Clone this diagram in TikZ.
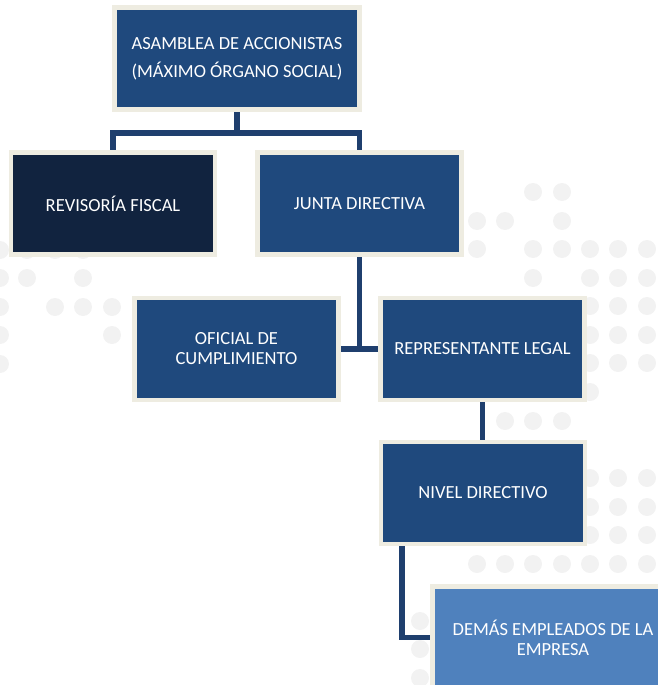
\documentclass[tikz,border=0pt]{standalone}
\usepackage{fontspec}
\setmainfont{Carlito}
\usetikzlibrary{backgrounds}
\definecolor{boxblue}{HTML}{1F497D}
\definecolor{darknavy}{HTML}{11233F}
\definecolor{lightblue}{HTML}{4F81BD}
\definecolor{cream}{HTML}{EEECE1}
\definecolor{connblue}{HTML}{1F3F6E}
\definecolor{dotgray}{HTML}{F2F2F2}
\begin{document}
\begin{tikzpicture}[x=1pt,y=-1pt,
  orgbox/.style={draw=cream, line width=4.5pt, fill=boxblue, text=white,
    minimum width=204pt, minimum height=102pt, inner sep=0pt, align=center,
    font=\fontsize{18.5}{20}\selectfont},
  conn/.style={draw=connblue, line width=5.5pt},
  bgdot/.style={fill=dotgray}]
\useasboundingbox (0,0) rectangle (658,685);
\clip (0,0) rectangle (658,685);
% decorative dots
\foreach \p in {(533,192),(562,192),
  (477,221),(505,221),(562,221),
  (477,249),(533,249),(562,249),(590,249),(618,249),(647,249),
  (533,278),(590,278),(618,278),(647,278),
  (590,306),(618,306),(647,306),
  (590,335),(618,335),(647,335),
  (590,363),(618,363),(647,363),
  (590,392),
  (505,421),(533,421),(562,421),
  (590,478),(618,478),(647,478),
  (590,507),(618,507),(647,507),
  (590,535),(618,535),(647,535),
  (477,564),(505,564),(533,564),(562,564),(590,564),(618,564),(647,564),
  (420,621),(420,649),(420,678),
  (0,250),(27,250),(55,250),(83,250),
  (0,278),(27,278),(83,278),
  (0,307),(55,307),(83,307),(112,307),
  (0,335),(112,335),
  (0,364)}
  \fill[bgdot] \p circle (9pt);
% boxes
\node[orgbox, minimum width=245pt] (asam) at (237,58.5) {ASAMBLEA DE ACCIONISTAS\\[8pt](MÁXIMO ÓRGANO SOCIAL)};
\node[orgbox, fill=darknavy] (rev) at (113,203.5) {REVISORÍA FISCAL};
\node[orgbox] (junta) at (359.5,203.5) {JUNTA DIRECTIVA};
\node[orgbox] (ofi) at (236.5,349) {OFICIAL DE\\CUMPLIMIENTO};
\node[orgbox] (rep) at (482.5,349) {REPRESENTANTE LEGAL};
\node[orgbox] (niv) at (483,493) {NIVEL DIRECTIVO};
\node[orgbox, fill=lightblue, minimum width=241pt] (dem) at (553,637.5) {DEMÁS EMPLEADOS DE LA\\EMPRESA};
% connectors
\begin{scope}[on background layer]
\coordinate (j1) at (237,133);
\draw[conn] (asam.south) -- (j1);
\draw[conn] (rev.north) |- (j1) -| (junta.north);
\coordinate (j2) at (359.5,349);
\draw[conn] (junta.south) -- (j2);
\draw[conn] (ofi.east) -- (rep.west);
\draw[conn] (rep.south) -- (rep.south |- niv.north);
\draw[conn] ([xshift=-81pt]niv.south) |- (dem.west);
\end{scope}
\end{tikzpicture}
\end{document}
